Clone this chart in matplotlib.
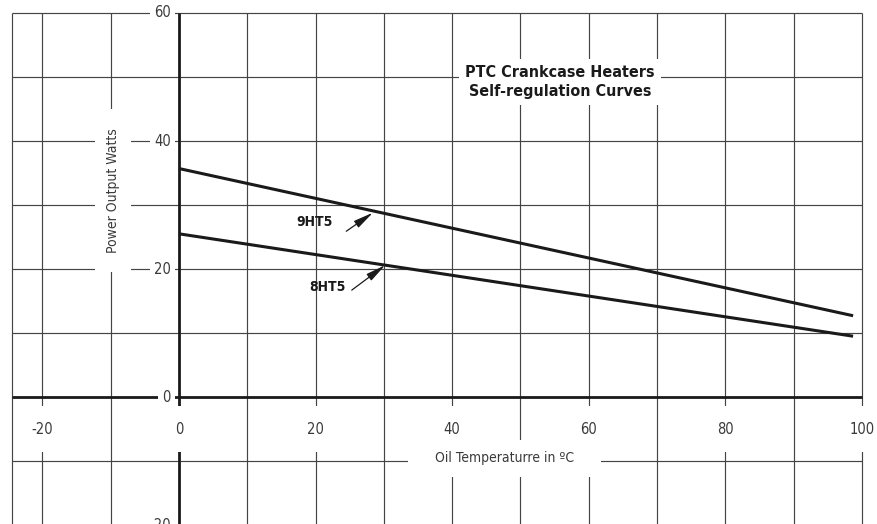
import matplotlib
matplotlib.use("Agg")
import matplotlib.pyplot as plt
from matplotlib import font_manager

# -----------------------------------------------------------------------------
# Data
# -----------------------------------------------------------------------------
temps = [0.0, 98.7]
power_9ht5 = [35.7, 12.7]
power_8ht5 = [25.5, 9.5]

curve_names = ["9HT5", "8HT5"]
label_xy = [(19.9, 27.4), (21.7, 17.2)]
arrow_tail = [(24.5, 25.9), (25.3, 16.7)]
arrow_head = [(28.4, 28.8), (30.2, 20.6)]

x_ticks = [-20, 0, 20, 40, 60, 80, 100]
y_ticks = [-20, 0, 20, 40, 60]
x_grid = [-20, -10, 10, 20, 30, 40, 50, 60, 70, 80, 90]
y_grid = [-10, 10, 20, 30, 40, 50]
x_frame = (-24.4, 100)
y_frame = (-20, 60)

TITLE = "PTC Crankcase Heaters\nSelf-regulation Curves"
X_LABEL = "Oil Temperaturre in ºC"
Y_LABEL = "Power Output Watts"

# -----------------------------------------------------------------------------
# Font: prefer a narrow face, like the condensed face of the original
# -----------------------------------------------------------------------------
names = {f.name for f in font_manager.fontManager.ttflist}
stretch = "normal"
if "Liberation Sans Narrow" in names:
    FAMILY = "Liberation Sans Narrow"
elif any(f.name == "DejaVu Sans" and f.stretch == "condensed" for f in font_manager.fontManager.ttflist):
    FAMILY = "DejaVu Sans"
    stretch = "condensed"
else:
    FAMILY = "Liberation Sans"
plt.rcParams["font.family"] = [FAMILY, "DejaVu Sans"]
plt.rcParams["font.stretch"] = stretch

GRID = "#444444"
INK = "#1a1a1a"
TEXT = "#3a3a3a"

fig = plt.figure(figsize=(8.77, 5.24), dpi=100)
ax = fig.add_axes([0, 0, 1, 1])
ax.set_xlim(-26.2, 102.2)
ax.set_ylim(-19.84, 62.03)
ax.axis("off")

# grid + frame
ax.vlines(x_grid + list(x_frame), y_frame[0], y_frame[1], color=GRID, lw=0.85, zorder=1)
ax.hlines(y_grid + [y_frame[1]], x_frame[0], x_frame[1], color=GRID, lw=0.85, zorder=1)
# main axes
ax.vlines(0, y_frame[0], y_frame[1], color=INK, lw=2.0, zorder=2)
ax.hlines(0, x_frame[0], x_frame[1], color=INK, lw=2.0, zorder=2)

# curves
ax.plot(temps, power_9ht5, color=INK, lw=2.2, solid_capstyle="butt", zorder=3)
ax.plot(temps, power_8ht5, color=INK, lw=2.2, solid_capstyle="butt", zorder=3)

for name, lxy, tail, head in zip(curve_names, label_xy, arrow_tail, arrow_head):
    ax.text(lxy[0], lxy[1], name, fontsize=10, fontweight="bold", color=INK,
            ha="center", va="center", zorder=5)
    ax.annotate("", xy=head, xytext=tail,
                arrowprops=dict(arrowstyle="-|>,head_length=1.0,head_width=0.2",
                                color=INK, lw=0.9, mutation_scale=12, shrinkA=0, shrinkB=0),
                zorder=5)

# tick labels
for v in y_ticks:
    ax.text(-1.2, v, str(v), fontsize=10.5, color=TEXT, ha="right", va="center", zorder=6,
            bbox=dict(boxstyle="square,pad=0.3", fc="white", ec="none"))
for v in x_ticks:
    ax.text(v, -5.0, str(v), fontsize=10.5, color=TEXT, ha="center", va="center", zorder=6,
            bbox=dict(boxstyle="square,pad=1.05", fc="white", ec="none"))

# axis titles
ax.text(47.7, -9.6, "    " + X_LABEL + "    ", fontsize=10, color=TEXT, ha="center", va="center",
        zorder=7, bbox=dict(boxstyle="square,pad=0.8", fc="white", ec="none"))
ax.text(-9.7, 32.3, "  " + Y_LABEL + "  ", fontsize=10, color=TEXT, rotation=90,
        ha="center", va="center", zorder=7,
        bbox=dict(boxstyle="square,pad=0.8", fc="white", ec="none"))

# chart title
ax.text(55.8, 49.2, TITLE, fontsize=11.5, fontweight="bold", color=INK, ha="center",
        va="center", linespacing=1.3, zorder=7,
        bbox=dict(boxstyle="square,pad=0.4", fc="white", ec="none"))

fig.savefig("out.png", dpi=100)
